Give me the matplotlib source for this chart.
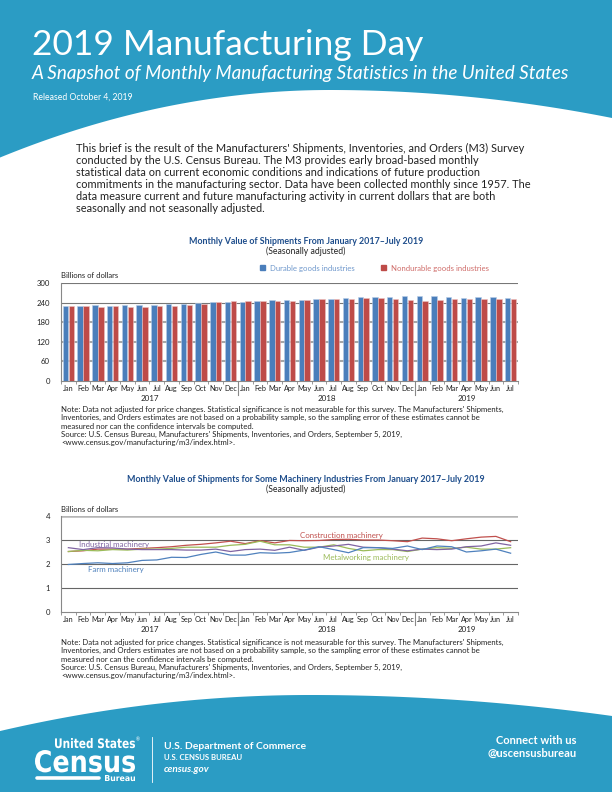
import matplotlib
matplotlib.use("Agg")
import matplotlib.pyplot as plt
import numpy as np
from matplotlib.textpath import TextPath
from matplotlib.font_manager import FontProperties
from matplotlib.patches import PathPatch
from matplotlib.transforms import Affine2D

plt.rcParams['font.family'] = ['Lato', 'DejaVu Sans']

# ---- data ----
months = ["Jan", "Feb", "Mar", "Apr", "May", "Jun", "Jul", "Aug", "Sep", "Oct", "Nov", "Dec"] * 2 + \
         ["Jan", "Feb", "Mar", "Apr", "May", "Jun", "Jul"]
years = ["2017", "2018", "2019"]

durable = [229, 229, 232, 229, 234, 234, 232, 235, 237, 240, 243, 241,
           243, 245, 247, 247, 249, 252, 252, 254, 256, 256, 258, 259,
           259, 259, 258, 255, 256, 257, 255]
nondurable = [229, 230, 228, 229, 227, 228, 230, 231, 233, 236, 242, 244,
              245, 245, 245, 246, 249, 251, 252, 252, 253, 253, 250, 248,
              246, 248, 251, 252, 251, 250, 251]

construction = [2.52, 2.55, 2.62, 2.62, 2.62, 2.65, 2.68, 2.72, 2.78, 2.82, 2.88, 2.95,
                2.85, 2.97, 2.88, 2.98, 2.97, 2.98, 3.02, 3.03, 3.00, 3.00, 2.97, 2.93,
                3.08, 3.05, 2.97, 3.05, 3.12, 3.15, 2.93]
metalworking = [2.52, 2.57, 2.55, 2.60, 2.58, 2.62, 2.62, 2.65, 2.70, 2.70, 2.70, 2.78,
                2.82, 2.95, 2.80, 2.80, 2.70, 2.70, 2.80, 2.65, 2.55, 2.60, 2.60, 2.52,
                2.62, 2.68, 2.65, 2.70, 2.62, 2.62, 2.68]
industrial = [2.68, 2.60, 2.68, 2.67, 2.62, 2.60, 2.60, 2.60, 2.58, 2.58, 2.62, 2.52,
              2.60, 2.62, 2.57, 2.70, 2.57, 2.70, 2.75, 2.82, 2.70, 2.68, 2.62, 2.55,
              2.62, 2.60, 2.62, 2.72, 2.75, 2.88, 2.78]
farm = [1.98, 2.02, 2.05, 2.02, 2.05, 2.15, 2.17, 2.28, 2.27, 2.40, 2.50, 2.37,
        2.37, 2.47, 2.45, 2.48, 2.58, 2.72, 2.60, 2.47, 2.68, 2.68, 2.65, 2.75,
        2.60, 2.75, 2.72, 2.50, 2.55, 2.62, 2.45]

BLUE_BAND = "#2b9cc4"
TITLE_BLUE = "#1f4e8c"
TXT = "#222222"
W, H = 612, 792

fig = plt.figure(figsize=(6.12, 7.92), dpi=100)

# background layer in pixel coords
bg = fig.add_axes([0, 0, 1, 1])
bg.set_xlim(0, W)
bg.set_ylim(H, 0)
bg.axis("off")

xs = np.linspace(0, W, 300)
top_curve = np.where(xs < 330, 90 + 6.2e-4 * (xs - 330) ** 2, 90 + 3.52e-4 * (xs - 330) ** 2)
bg.fill_between(xs, 0, top_curve, color=BLUE_BAND, lw=0)
bot_curve = np.where(xs < 310, 695 + 3.75e-4 * (xs - 310) ** 2, 695 + 2.3e-4 * (xs - 310) ** 2)
bg.fill_between(xs, bot_curve, H, color=BLUE_BAND, lw=0)

bg.text(32, 55, "2019 Manufacturing Day", color="white", fontsize=25.5, va="baseline")
bg.text(32, 79, "A Snapshot of Monthly Manufacturing Statistics in the United States", color="white",
        fontsize=13.6, fontstyle="italic", va="baseline")
bg.text(33, 100, "Released October 4, 2019", color="white", fontsize=6.2, va="baseline")

intro = ("This brief is the result of the Manufacturers' Shipments, Inventories, and Orders (M3) Survey\n"
         "conducted by the U.S. Census Bureau. The M3 provides early broad-based monthly\n"
         "statistical data on current economic conditions and indications of future production\n"
         "commitments in the manufacturing sector. Data have been collected monthly since 1957. The\n"
         "data measure current and future manufacturing activity in current dollars that are both\n"
         "seasonally and not seasonally adjusted.")
bg.text(76, 143, intro, color=TXT, fontsize=7.9, va="top", linespacing=1.12)

note = ("Note: Data not adjusted for price changes. Statistical significance is not measurable for this survey. The Manufacturers' Shipments,\n"
        "Inventories, and Orders estimates are not based on a probability sample, so the sampling error of these estimates cannot be\n"
        "measured nor can the confidence intervals be computed.\n"
        "Source: U.S. Census Bureau, Manufacturers' Shipments, Inventories, and Orders, September 5, 2019,\n"
        "<www.census.gov/manufacturing/m3/index.html>.")
bg.text(61, 406, note, color=TXT, fontsize=5.6, va="top", linespacing=1.2)
bg.text(61, 639, note, color=TXT, fontsize=5.6, va="top", linespacing=1.2)

# chart titles
bg.text(306, 241, "Monthly Value of Shipments From January 2017\u2013July 2019", color=TITLE_BLUE,
        fontsize=6.4, fontweight="bold", ha="center", va="center")
bg.text(306, 251, "(Seasonally adjusted)", color=TXT, fontsize=6.2, ha="center", va="center")
bg.text(61, 275, "Billions of dollars", color=TXT, fontsize=5.5, va="center")
bg.text(306, 479, "Monthly Value of Shipments for Some Machinery Industries From January 2017\u2013July 2019",
        color=TITLE_BLUE, fontsize=6.4, fontweight="bold", ha="center", va="center")
bg.text(306, 489, "(Seasonally adjusted)", color=TXT, fontsize=6.2, ha="center", va="center")
bg.text(61, 509, "Billions of dollars", color=TXT, fontsize=5.5, va="center")


# footer logo drawn as stretched text paths
def logo_text(s, x0, x1, y_base, cap_h):
    tp = TextPath((0, 0), s, size=1, prop=FontProperties(family="DejaVu Sans", weight="bold"))
    ext = tp.get_extents()
    tr = Affine2D().translate(-ext.x0, 0).scale((x1 - x0) / ext.width, -cap_h / ext.y1).translate(x0, y_base)
    bg.add_patch(PathPatch(tr.transform_path(tp), facecolor="white", lw=0))


logo_text("United States", 55, 135, 748, 10)
bg.text(136, 741, "\u00ae", color="white", fontsize=3.5, va="baseline")
logo_text("Census", 35, 135, 772, 22)
logo_text("Bureau", 105, 135, 781, 6)
bg.plot([37, 99], [777.5, 777.5], color="white", lw=2.6, solid_capstyle="round")
bg.plot([152, 152], [737, 782], color="white", lw=0.6)
bg.text(164, 749, "U.S. Department of Commerce", color="white", fontsize=7.5, fontweight="bold", va="baseline")
bg.text(164, 760, "U.S. CENSUS BUREAU", color="white", fontsize=5.6, fontweight="bold", va="baseline")
bg.text(164, 772, "census.gov", color="white", fontsize=7.2, fontweight="bold", fontstyle="italic", va="baseline")
bg.text(577, 744, "Connect with us", color="white", fontsize=8, fontweight="bold", ha="right", va="baseline")
bg.text(577, 757, "@uscensusbureau", color="white", fontsize=8, fontweight="bold", ha="right", va="baseline")


def px_axes(left, top, right, bottom):
    return fig.add_axes([left / W, 1 - bottom / H, (right - left) / W, (bottom - top) / H])


def month_axis(ax):
    x = np.arange(len(months))
    ax.set_xlim(-0.5, len(months) - 0.5)
    ax.set_xticks(x)
    ax.set_xticklabels(months, fontsize=5.2, color=TXT)
    ax.tick_params(axis="x", length=0, pad=3)
    ax.set_xticks(np.arange(-0.5, len(months), 1), minor=True)
    ax.tick_params(axis="x", which="minor", length=2.5, color="#888888", width=0.6)
    for sep in [11.5, 23.5]:
        ax.plot([sep, sep], [0, -0.14], transform=ax.get_xaxis_transform(), clip_on=False,
                color="#888888", lw=0.8)
    for yr, centre in zip(years, [5.5, 17.5, 27.0]):
        ax.text(centre, -0.18, yr, transform=ax.get_xaxis_transform(), ha="center", va="center",
                fontsize=5.8, color=TXT)


def style_axes(ax):
    ax.tick_params(axis="y", length=0, labelsize=5.6, labelcolor=TXT, pad=8)
    for s in ["top", "right"]:
        ax.spines[s].set_visible(False)
    for s in ["left", "bottom"]:
        ax.spines[s].set_color("#888888")
        ax.spines[s].set_linewidth(0.8)


# ---- bar chart ----
ax1 = px_axes(61, 283, 518, 381)
x = np.arange(len(months))
ax1.bar(x - 0.2, durable, width=0.37, color="#4a7ebb", edgecolor="#b8cde8", linewidth=0.4, zorder=3)
ax1.bar(x + 0.2, nondurable, width=0.37, color="#be4b48", edgecolor="#ecc4c3", linewidth=0.4, zorder=3)
ax1.set_ylim(0, 300)
ax1.set_yticks([0, 60, 120, 180, 240, 300])
for v in [60, 120, 180]:
    ax1.axhline(v, color="#a6a6a6", lw=1.5, zorder=1)
for v in [240, 300]:
    ax1.axhline(v, color="#777777", lw=0.8, zorder=1)
style_axes(ax1)
month_axis(ax1)

# legend
bg.add_patch(plt.Rectangle((260, 265), 5, 5, color="#4a7ebb"))
bg.text(270, 268, "Durable goods industries", color="#6f98cc", fontsize=5.6, va="center")
bg.add_patch(plt.Rectangle((381, 265), 5, 5, color="#be4b48"))
bg.text(391, 268, "Nondurable goods industries", color="#cf6c69", fontsize=5.6, va="center")

# ---- line chart ----
ax2 = px_axes(61, 516, 518, 612)
for series, col in [(construction, "#c0504d"), (metalworking, "#9bbb59"),
                    (industrial, "#8064a2"), (farm, "#4f81bd")]:
    ax2.plot(x, series, color=col, lw=0.9, zorder=3)
ax2.set_ylim(0, 4)
ax2.set_yticks([0, 1, 2, 3, 4])
for v in [1, 2, 3]:
    ax2.axhline(v, color="#666666", lw=0.8, zorder=1)
ax2.axhline(4, color="#b5b5b5", lw=1.8, zorder=1)
style_axes(ax2)
month_axis(ax2)

ax2.text(15.7, 3.2, "Construction machinery", color="#c0504d", fontsize=5.7, va="center")
ax2.text(0.75, 2.83, "Industrial machinery", color="#8064a2", fontsize=5.7, va="center")
ax2.text(17.3, 2.29, "Metalworking machinery", color="#9bbb59", fontsize=5.7, va="center")
ax2.text(1.3, 1.79, "Farm machinery", color="#4f81bd", fontsize=5.7, va="center")

fig.savefig("out.png", dpi=100)
